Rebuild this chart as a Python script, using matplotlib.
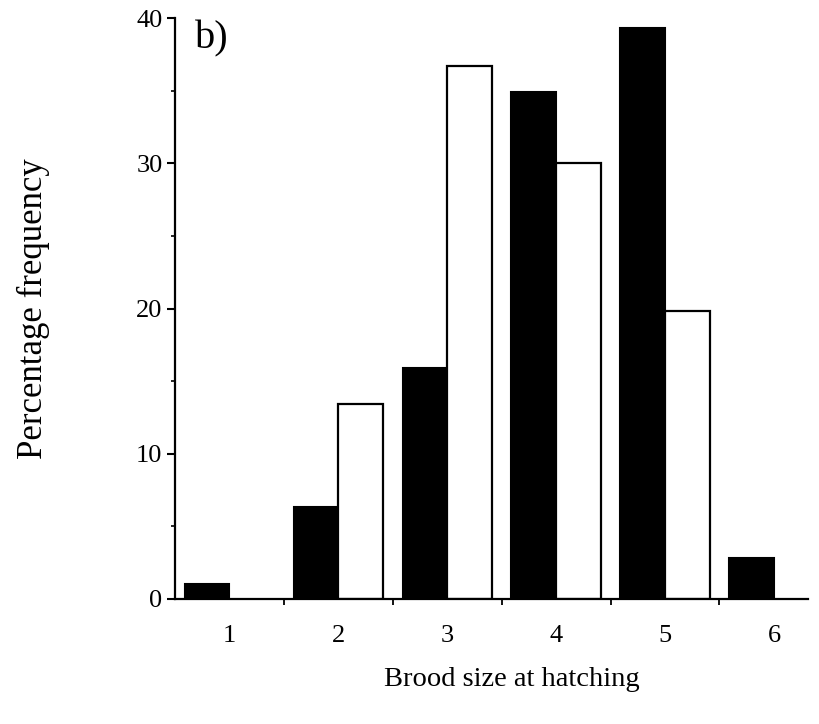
import numpy as np
import matplotlib.pyplot as plt

plt.rcParams['font.family'] = ['Liberation Serif', 'DejaVu Serif']

# brood size categories and percentage frequencies
sizes = [1, 2, 3, 4, 5, 6]
black_pct = [1.0, 6.3, 15.9, 34.9, 39.3, 2.8]
white_pct = [0.0, 13.4, 36.7, 30.0, 19.8, 0.0]
yticks = [0, 10, 20, 30, 40]

x = np.array(sizes, dtype=float)
w = 0.41

fig = plt.figure(figsize=(8.2, 7.24), dpi=100)
ax = fig.add_axes([0.2134, 0.1727, 0.985 - 0.2134, 0.975 - 0.1727])

ax.bar(x - w / 2, black_pct, width=w, color='black', edgecolor='black', linewidth=1.5)
white_x = [xi for xi, v in zip(x, white_pct) if v > 0]
white_v = [v for v in white_pct if v > 0]
ax.bar(np.array(white_x) + w / 2, white_v, width=w, color='white', edgecolor='black', linewidth=1.6)

ax.set_xlim(0.5, 6.31)
ax.set_ylim(0, 40)

for s in ['top', 'right']:
    ax.spines[s].set_visible(False)
ax.spines['left'].set_linewidth(1.6)
ax.spines['bottom'].set_linewidth(1.6)

ax.set_yticks(yticks)
ax.set_yticks(np.arange(5, 40, 10), minor=True)
ax.tick_params(axis='y', which='major', direction='out', length=6, width=1.5, labelsize=19, pad=3)
ax.tick_params(axis='y', which='minor', direction='out', length=3, width=1.2)

ax.set_xticks(sizes)
ax.set_xticks(np.arange(1.5, 6.0, 1.0), minor=True)
ax.tick_params(axis='x', which='major', length=0, labelsize=19, pad=19)
ax.tick_params(axis='x', which='minor', direction='out', length=4, width=1.3)

ax.set_xlabel('Brood size at hatching', fontsize=20.5, labelpad=14)
ax.xaxis.label.set_x(0.532)
ax.set_ylabel('Percentage frequency', fontsize=25, labelpad=62)

ax.text(0.68, 38.6, 'b)', fontsize=29, ha='left', va='center')

fig.savefig('out.png', dpi=100)
